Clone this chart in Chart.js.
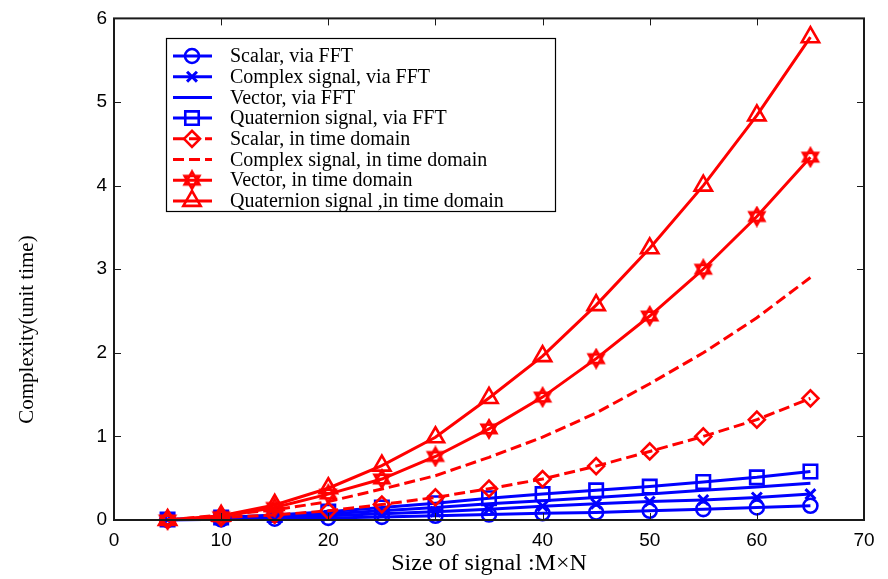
<!DOCTYPE html>
<html>
<head>
<meta charset="utf-8">
<style>
html,body{margin:0;padding:0;background:#ffffff;}
#wrap{width:888px;height:579px;position:relative;}
</style>
<script src="https://cdn.jsdelivr.net/npm/chart.js@4.4.0/dist/chart.umd.min.js"></script>
</head>
<body>
<div id="wrap"><canvas id="c" width="888" height="579"></canvas></div>
<script>
// ---- data ----
const sizes = [5, 10, 15, 20, 25, 30, 35, 40, 45, 50, 55, 60, 65];
const scalarFFT      = [0.001, 0.008, 0.015, 0.025, 0.037, 0.050, 0.065, 0.080, 0.090, 0.110, 0.130, 0.150, 0.170];
const complexFFT     = [0.003, 0.015, 0.030, 0.050, 0.075, 0.100, 0.130, 0.165, 0.195, 0.220, 0.240, 0.270, 0.310];
const vectorFFT      = [0.004, 0.022, 0.045, 0.075, 0.110, 0.150, 0.195, 0.230, 0.270, 0.310, 0.355, 0.395, 0.440];
const quaternionFFT  = [0.005, 0.030, 0.060, 0.100, 0.150, 0.200, 0.260, 0.310, 0.355, 0.400, 0.455, 0.510, 0.580];
const scalarTime     = [0.000, 0.030, 0.060, 0.110, 0.185, 0.270, 0.375, 0.490, 0.645, 0.820, 1.000, 1.200, 1.455];
const complexTime    = [0.000, 0.060, 0.120, 0.220, 0.370, 0.530, 0.750, 0.990, 1.280, 1.630, 2.000, 2.420, 2.900];
const vectorTime     = [0.000, 0.040, 0.150, 0.310, 0.490, 0.760, 1.090, 1.470, 1.930, 2.440, 3.000, 3.630, 4.340];
const quaternionTime = [0.000, 0.050, 0.180, 0.380, 0.650, 0.990, 1.460, 1.960, 2.570, 3.250, 4.000, 4.840, 5.775];
const xTicks = [0, 10, 20, 30, 40, 50, 60, 70];
const yTicks = [0, 1, 2, 3, 4, 5, 6];
const seriesNames = [
  'Scalar, via FFT',
  'Complex signal, via FFT',
  'Vector, via FFT',
  'Quaternion signal, via FFT',
  'Scalar, in time domain',
  'Complex signal, in time domain',
  'Vector, in time domain',
  'Quaternion signal ,in time domain'
];
const xTitle = 'Size of signal :M\u00D7N';
const yTitle = 'Complexity(unit time)';

// ---- styles ----
const BLUE = '#0000ff', RED = '#ff0000';
function hexagram(color) {
  const c = document.createElement('canvas');
  c.width = 22; c.height = 22;
  const g = c.getContext('2d');
  g.strokeStyle = color; g.lineWidth = 2.6; g.lineJoin = 'miter';
  const R = 8.5, cx = 11, cy = 11;
  for (let t = 0; t < 2; t++) {
    g.beginPath();
    for (let k = 0; k < 3; k++) {
      const a = (t === 0 ? -Math.PI / 2 : Math.PI / 2) + k * 2 * Math.PI / 3;
      const px = cx + R * Math.cos(a), py = cy + R * Math.sin(a);
      if (k === 0) g.moveTo(px, py); else g.lineTo(px, py);
    }
    g.closePath(); g.stroke();
  }
  return c;
}
const starImg = hexagram(RED);

const seriesData = [scalarFFT, complexFFT, vectorFFT, quaternionFFT, scalarTime, complexTime, vectorTime, quaternionTime];
const styles = [
  {color: BLUE, dash: [], point: 'circle', r: 7},
  {color: BLUE, dash: [], point: 'crossRot', r: 7},
  {color: BLUE, dash: [], point: false, r: 0},
  {color: BLUE, dash: [], point: 'rect', r: 9.5},
  {color: RED, dash: [11, 5], point: 'rectRot', r: 8},
  {color: RED, dash: [11, 5], point: false, r: 0},
  {color: RED, dash: [], point: 'star', r: 9},
  {color: RED, dash: [], point: 'triangle', r: 10}
];

const datasets = seriesData.map((vals, i) => {
  const s = styles[i];
  return {
    label: seriesNames[i],
    data: sizes.map((x, j) => ({x: x, y: vals[j]})),
    borderColor: s.color,
    backgroundColor: 'rgba(0,0,0,0)',
    borderWidth: 3,
    borderDash: s.dash,
    tension: 0,
    fill: false,
    pointStyle: s.point === 'star' ? starImg : (s.point || 'circle'),
    pointRadius: s.point ? s.r : 0,
    pointHoverRadius: s.point ? s.r : 0,
    pointBorderWidth: s.point === 'crossRot' ? 3 : 2.6,
    pointBorderColor: s.color,
    pointBackgroundColor: 'rgba(0,0,0,0)',
    clip: false,
    order: 7 - i
  };
});

// ---- marker drawing for the legend ----
function drawMarker(g, s, x, y) {
  if (!s.point) return;
  g.save();
  g.strokeStyle = s.color; g.lineWidth = 2.6; g.setLineDash([]);
  const r = s.r;
  g.beginPath();
  if (s.point === 'circle') {
    g.arc(x, y, r, 0, Math.PI * 2);
  } else if (s.point === 'crossRot') {
    g.lineWidth = 3;
    const o = r * Math.SQRT1_2;
    g.moveTo(x - o, y - o); g.lineTo(x + o, y + o);
    g.moveTo(x - o, y + o); g.lineTo(x + o, y - o);
  } else if (s.point === 'rect') {
    const o = r * Math.SQRT1_2;
    g.rect(x - o, y - o, 2 * o, 2 * o);
  } else if (s.point === 'rectRot') {
    g.moveTo(x - r, y); g.lineTo(x, y - r); g.lineTo(x + r, y); g.lineTo(x, y + r); g.closePath();
  } else if (s.point === 'triangle') {
    g.moveTo(x, y - r);
    g.lineTo(x + 0.866 * r, y + 0.5 * r);
    g.lineTo(x - 0.866 * r, y + 0.5 * r);
    g.closePath();
  } else if (s.point === 'star') {
    g.drawImage(starImg, x - 11, y - 11);
  }
  g.stroke();
  g.restore();
}

const framePlugin = {
  id: 'frame',
  afterDraw(chart) {
    const g = chart.ctx, a = chart.chartArea;
    const xs = chart.scales.x, ys = chart.scales.y;
    g.save();
    g.strokeStyle = '#1a1a1a';
    g.lineWidth = 1;
    g.beginPath();
    xTicks.forEach(v => {
      const px = Math.round(xs.getPixelForValue(v)) + 0.5;
      g.moveTo(px, a.bottom); g.lineTo(px, a.bottom - 7);
      g.moveTo(px, a.top); g.lineTo(px, a.top + 7);
    });
    yTicks.forEach(v => {
      const py = Math.round(ys.getPixelForValue(v)) + 0.5;
      g.moveTo(a.left, py); g.lineTo(a.left + 7, py);
      g.moveTo(a.right, py); g.lineTo(a.right - 7, py);
    });
    g.stroke();
    g.lineWidth = 2;
    g.strokeRect(a.left, a.top, a.right - a.left, a.bottom - a.top);

    // legend box
    const L = 166, T = 38, W = 389, H = 173;
    g.fillStyle = '#ffffff';
    g.fillRect(L, T, W, H);
    g.lineWidth = 1.2;
    g.strokeStyle = '#000000';
    g.strokeRect(L + 0.5, T + 0.5, W, H);
    g.font = '20px "Liberation Serif", "Times New Roman", serif';
    g.textBaseline = 'middle';
    g.textAlign = 'left';
    seriesNames.forEach((name, i) => {
      const s = styles[i];
      const yy = 56 + i * 20.7;
      g.save();
      g.strokeStyle = s.color; g.lineWidth = 3;
      g.setLineDash(s.dash);
      g.beginPath(); g.moveTo(173, yy); g.lineTo(212, yy); g.stroke();
      g.restore();
      drawMarker(g, s, 192, yy);
      g.fillStyle = '#000000';
      g.fillText(name, 230, yy + 1);
    });
    g.restore();
  }
};

new Chart(document.getElementById('c'), {
  type: 'line',
  data: {datasets: datasets},
  options: {
    responsive: false,
    animation: false,
    devicePixelRatio: 1,
    layout: {padding: {left: 0, right: 24, top: 14, bottom: 0}},
    plugins: {legend: {display: false}, tooltip: {enabled: false}},
    scales: {
      x: {
        type: 'linear', min: 0, max: 70,
        afterFit(s) { s.height = 59; },
        afterBuildTicks(s) { s.ticks = xTicks.map(v => ({value: v})); },
        grid: {display: false, drawTicks: false},
        border: {display: false},
        ticks: {color: '#000', padding: 9, font: {family: '"Liberation Sans", Arial, sans-serif', size: 19}},
        title: {display: true, text: xTitle, color: '#000', padding: {top: 0, bottom: 2},
          font: {family: '"Liberation Serif", "Times New Roman", serif', size: 24, lineHeight: 1.1}}
      },
      y: {
        type: 'linear', min: 0, max: 6,
        afterFit(s) { s.width = 114; },
        afterBuildTicks(s) { s.ticks = yTicks.map(v => ({value: v})); },
        grid: {display: false, drawTicks: false},
        border: {display: false},
        ticks: {color: '#000', padding: 7, font: {family: '"Liberation Sans", Arial, sans-serif', size: 19}},
        title: {display: true, text: yTitle + '\u0020'.repeat(23), color: '#000', padding: {top: 15, bottom: 0},
          font: {family: '"Liberation Serif", "Times New Roman", serif', size: 21, lineHeight: 1.2}}
      }
    }
  },
  plugins: [framePlugin]
});
</script>
</body>
</html>
